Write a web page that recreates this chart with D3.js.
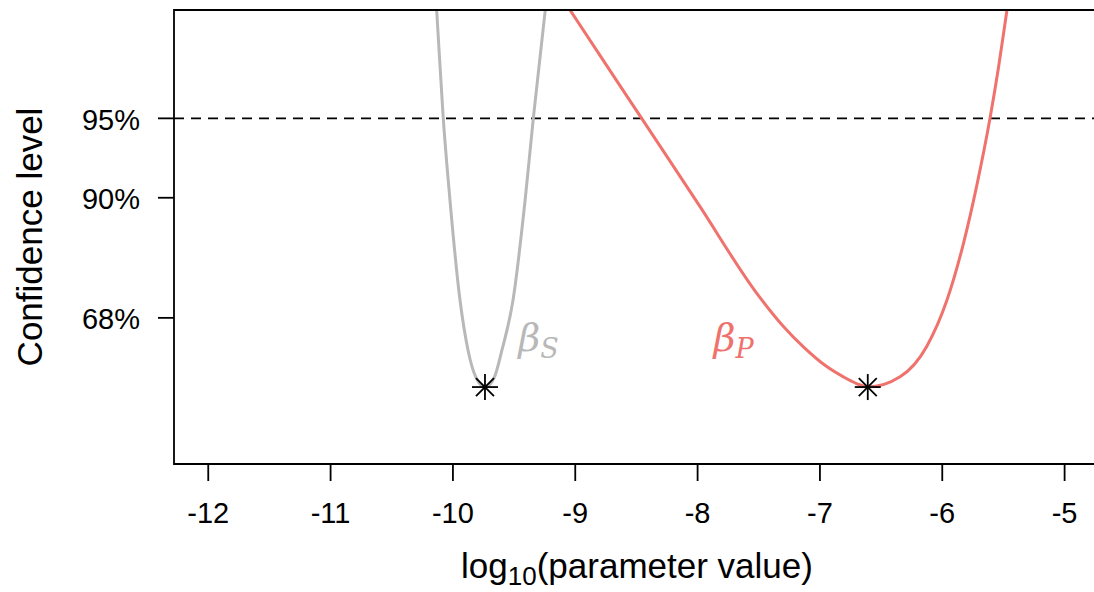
<!DOCTYPE html>
<html>
<head>
<meta charset="utf-8">
<script src="https://cdn.jsdelivr.net/npm/d3@7"></script>
<style>
  html, body { margin: 0; padding: 0; background: #fff; }
  svg { display: block; font-family: "Liberation Sans", Arial, sans-serif; }
</style>
</head>
<body>
<svg id="chart" width="1094" height="592"></svg>
<script>
// x axis ticks (log10 of parameter value)
var xTicks = [-12, -11, -10, -9, -8, -7, -6, -5];

// confidence levels on the chi-square (1 df) scale
var yTickValues = [0.989, 2.706, 3.841];
var yTickLabels = ["68%", "90%", "95%"];
var cutoffLevel = 3.841;

// profile curve for beta_S (grey)
var betaSx   = [-10.155, -10.133, -10.079, -10.024, -9.942, -9.877, -9.810, -9.738, -9.664, -9.599, -9.509, -9.410, -9.343, -9.245, -9.205];
var betaSchi = [   6.00,    5.39,    3.84,    2.67,   1.24,   0.53,   0.13,   0.00,   0.13,   0.53,   1.24,   2.67,   3.84,   5.39,   6.00];

// profile curve for beta_P (red)
var betaPx   = [-9.27, -9.043, -8.457, -7.988, -7.516, -7.30, -7.135, -6.95, -6.808, -6.70, -6.609, -6.345, -6.126, -5.963, -5.827, -5.718, -5.609, -5.541, -5.472, -5.42];
var betaPchi = [ 6.00,   5.39,   3.84,   2.60,   1.34,  0.87,  0.575,  0.30,  0.146,  0.05,   0.00,  0.146,  0.584,  1.236,  2.052,  2.880,  3.850,  4.560,  5.380,  6.00];

// best estimates (asterisks)
var bestX   = [-9.738, -6.609];
var bestChi = [0, 0];

var labelNames  = ["S", "P"];
var labelX      = [-9.465, -7.87];
var labelChi    = [0.52, 0.52];
var colours     = ["#b8b8b8", "#ef726d"];

var svg = d3.select("#chart");

var plotLeft = 174, plotRight = 1098, plotTop = 10, plotBottom = 464;

var x = d3.scaleLinear().domain([-12.28, -4.727]).range([plotLeft, plotRight]);
var y = d3.scaleLinear().domain([-1.10, 5.39]).range([plotBottom, plotTop]);

svg.append("defs").append("clipPath")
    .attr("id", "plotclip")
  .append("rect")
    .attr("x", plotLeft).attr("y", plotTop)
    .attr("width", plotRight - plotLeft).attr("height", plotBottom - plotTop);

var plot = svg.append("g").attr("clip-path", "url(#plotclip)");

// 95% cut-off
plot.append("line")
    .attr("x1", plotLeft).attr("x2", plotRight)
    .attr("y1", y(cutoffLevel)).attr("y2", y(cutoffLevel))
    .attr("stroke", "#000")
    .attr("stroke-width", 1.8)
    .attr("stroke-dasharray", "10,7");

var line = d3.line()
    .x(d => x(d[0]))
    .y(d => y(d[1]))
    .curve(d3.curveMonotoneX);

var curves = [d3.zip(betaSx, betaSchi), d3.zip(betaPx, betaPchi)];

curves.forEach(function (pts, i) {
    plot.append("path")
        .datum(pts)
        .attr("d", line)
        .attr("fill", "none")
        .attr("stroke", colours[i])
        .attr("stroke-width", 3);
});

// asterisks
var star = d3.zip(bestX, bestChi);
var r = 13, rd = 9;
star.forEach(function (d) {
    var g = plot.append("g")
        .attr("transform", "translate(" + [x(d[0]), y(d[1])] + ")")
        .attr("stroke", "#000")
        .attr("stroke-width", 1.8);
    g.append("line").attr("x1", -r).attr("x2", r).attr("y1", 0).attr("y2", 0);
    g.append("line").attr("x1", 0).attr("x2", 0).attr("y1", -r).attr("y2", r);
    g.append("line").attr("x1", -rd).attr("x2", rd).attr("y1", -rd).attr("y2", rd);
    g.append("line").attr("x1", -rd).attr("x2", rd).attr("y1", rd).attr("y2", -rd);
});

// beta labels
labelNames.forEach(function (name, i) {
    var t = svg.append("text")
        .attr("x", x(labelX[i]))
        .attr("y", y(labelChi[i]))
        .attr("fill", colours[i])
        .style("font-family", "'DejaVu Serif', 'Liberation Serif', serif")
        .style("font-style", "italic")
        .style("font-size", "38px");
    t.append("tspan").text("\u03b2");
    t.append("tspan")
        .attr("dy", 7)
        .style("font-size", "27px")
        .text(name);
});

// box (right edge falls outside the picture)
svg.append("path")
    .attr("d", "M" + plotRight + "," + plotTop + "H" + plotLeft + "V" + plotBottom + "H" + plotRight)
    .attr("fill", "none")
    .attr("stroke", "#000")
    .attr("stroke-width", 1.8);

// x axis
var xAxis = svg.append("g");
xTicks.forEach(function (t) {
    xAxis.append("line")
        .attr("x1", x(t)).attr("x2", x(t))
        .attr("y1", plotBottom).attr("y2", plotBottom + 17)
        .attr("stroke", "#000").attr("stroke-width", 1.8);
    xAxis.append("text")
        .attr("x", x(t)).attr("y", 523)
        .attr("text-anchor", "middle")
        .style("font-size", "29px")
        .text(t);
});

// y axis
var yAxis = svg.append("g");
yTickValues.forEach(function (v, i) {
    yAxis.append("line")
        .attr("x1", plotLeft - 16).attr("x2", plotLeft)
        .attr("y1", y(v)).attr("y2", y(v))
        .attr("stroke", "#000").attr("stroke-width", 1.8);
    yAxis.append("text")
        .attr("x", 140).attr("y", y(v) + 11.5)
        .attr("text-anchor", "end")
        .style("font-size", "29px")
        .text(yTickLabels[i]);
});

// axis titles
var xt = svg.append("text")
    .attr("x", 637).attr("y", 578)
    .attr("text-anchor", "middle")
    .style("font-size", "35px");
xt.append("tspan").text("log");
xt.append("tspan").attr("dy", 7).style("font-size", "26px").text("10");
xt.append("tspan").attr("dy", -7).text("(parameter value)");

svg.append("text")
    .attr("transform", "translate(41.5," + ((plotTop + plotBottom) / 2) + ") rotate(-90)")
    .attr("text-anchor", "middle")
    .style("font-size", "35px")
    .text("Confidence level");
</script>
</body>
</html>
